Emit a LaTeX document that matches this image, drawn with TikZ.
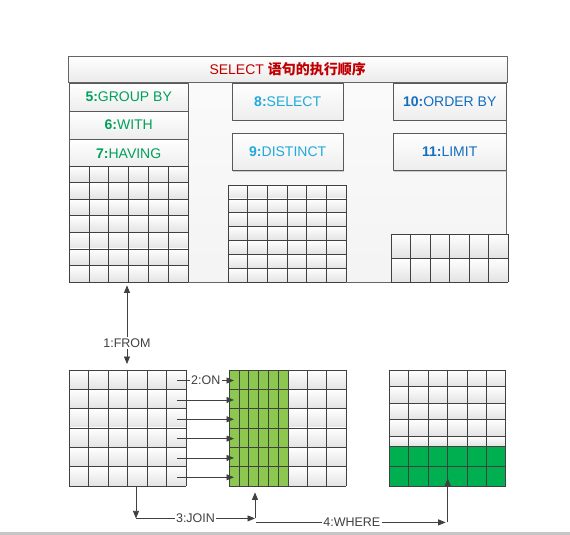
\documentclass[tikz,border=0pt]{standalone}
\usepackage{fontspec}
\setmainfont{Liberation Sans}
\newfontfamily\cjk{Noto Sans CJK SC}
\usetikzlibrary{positioning,calc,shadows,arrows.meta}
\definecolor{titlered}{RGB}{192,0,0}
\definecolor{grpgreen}{RGB}{0,160,90}
\definecolor{selblue}{RGB}{30,170,220}
\definecolor{ordblue}{RGB}{20,110,190}
\definecolor{joingreen}{RGB}{140,200,80}
\definecolor{wheregreen}{RGB}{0,176,80}
\definecolor{linegray}{RGB}{64,64,64}
% #1 fill style, #2 x0, #3 y0, #4 cols, #5 col width, #6 rows, #7 row height
\newcommand{\sqlgrid}[7]{%
  \foreach \r in {1,...,#6}
    \path[#1] (#2,{#3+(\r-1)*#7}) rectangle ({#2+#4*#5},{#3+\r*#7});
  \foreach \c in {0,...,#4}
    \draw[cellline] ({#2+\c*#5},#3) -- ({#2+\c*#5},{#3+#6*#7});
  \foreach \r in {0,...,#6}
    \draw[cellline] (#2,{#3+\r*#7}) -- ({#2+#4*#5},{#3+\r*#7});
}
\begin{document}
\begin{tikzpicture}[x=1pt, y=-1pt, font=\fontsize{14}{16}\selectfont, line join=round, >={Triangle[length=7.5pt,width=6pt]},
	opbox/.style={draw=black!65, top color=white, bottom color=gray!14, inner sep=0pt, minimum width=111pt, minimum height=37pt,
		drop shadow={shadow xshift=1.2pt, shadow yshift=-1.2pt, opacity=0.35}},
	stackbox/.style={draw=black!65, top color=white, bottom color=gray!14, inner sep=0pt, minimum width=119pt, minimum height=27.7pt},
	cellline/.style={draw=black!75, line width=0.6pt},
	plaincell/.style={top color=white, bottom color=gray!22},
	conn/.style={draw=linegray, line width=0.8pt},
	steplabel/.style={font=\fontsize{12.5}{14}\selectfont, text=linegray, fill=white, inner sep=1.5pt}]
	\useasboundingbox (0,0) rectangle (570,535);
	\node[draw=black!60, top color=gray!3, bottom color=gray!9, inner sep=0pt, minimum width=437pt, minimum height=225pt, anchor=north west] (panel) at (69,57) {};
	\node[draw=black!60, top color=white, bottom color=gray!16, inner sep=0pt, minimum width=439pt, minimum height=26pt, anchor=north west] (title) at (68,56)
		{\textcolor{titlered}{SELECT {\cjk\bfseries 语句的执行顺序}}};
	\node[stackbox, anchor=north west, text=grpgreen] (group) at (69,83) {\textbf{5:}GROUP BY};
	\node[stackbox, below=0pt of group, text=grpgreen] (with) {\textbf{6:}WITH};
	\node[stackbox, below=0pt of with, text=grpgreen] (having) {\textbf{7:}HAVING};
	\node[opbox, anchor=north west, text=selblue] (select) at (232,83) {\textbf{8:}SELECT};
	\node[opbox, below=13pt of select, text=selblue] (distinct) {\textbf{9:}DISTINCT};
	\node[opbox, anchor=north west, minimum width=113pt, text=ordblue] (orderby) at (393,83) {\textbf{10:}ORDER BY};
	\node[opbox, below=13pt of orderby, minimum width=113pt, text=ordblue] (limit) {\textbf{11:}LIMIT};
	\sqlgrid{plaincell}{69}{166}{6}{19.83}{7}{16.57}
	\sqlgrid{plaincell}{228}{185}{6}{19.67}{7}{13.86}
	\sqlgrid{plaincell}{391}{234}{6}{19.5}{2}{24}
	\sqlgrid{plaincell}{69}{370}{6}{19.5}{6}{19.33}
	\sqlgrid{fill=joingreen}{229}{370}{6}{9.83}{6}{19.33}
	\sqlgrid{plaincell}{288}{370}{3}{19.33}{6}{19.33}
	\sqlgrid{plaincell}{389}{370}{6}{19.45}{4}{16.5}
	\sqlgrid{plaincell}{389}{436}{6}{19.45}{1}{10}
	\sqlgrid{fill=wheregreen}{389}{446}{6}{19.45}{2}{20}
	\node[inner sep=0pt, minimum width=117pt, minimum height=116pt, anchor=north west] (tblA) at (69,370) {};
	\node[inner sep=0pt, minimum width=117pt, minimum height=116pt, anchor=north west] (tblB) at (229,370) {};
	\node[inner sep=0pt, minimum width=117pt, minimum height=116pt, anchor=north west] (tblC) at (389,370) {};
	\node[steplabel] (lblfrom) at (127,343) {1:FROM};
	\draw[conn,->,shorten >=3pt] (lblfrom.north) -- (lblfrom.north |- panel.south);
	\draw[conn,->,shorten >=6pt] (lblfrom.south) -- (lblfrom.south |- tblA.north);
	\draw[conn,->] ($(tblA.north east)+(-9,10.5)$) -- ($(tblB.north west)+(5,10.5)$) node[steplabel, midway] {2:ON};
	\foreach \k in {2,...,6}
		\draw[conn,->] ($(tblA.north east)+(-9,{(\k-0.45)*19.33})$) -- ($(tblB.north west)+(5,{(\k-0.45)*19.33})$);
	\coordinate (joincorner) at ($(tblA.south west)+(67,32)$);
	\coordinate (joinend) at ($(tblB.south west)+(26,32)$);
	\draw[conn,->] (tblA.south -| joincorner) -- (joincorner);
	\draw[conn,->] (joincorner) -- (joinend) node[steplabel, midway] {3:JOIN};
	\draw[conn,->,shorten >=6pt] (joinend) -- (joinend |- tblB.south);
	\coordinate (wherestart) at ($(joinend)+(1,4)$);
	\coordinate (whereend) at (tblC.south |- wherestart);
	\draw[conn,->,shorten >=2pt] (wherestart) -- (whereend) node[steplabel, midway] {4:WHERE};
	\draw[conn,->] (whereend) -- ([yshift=8pt]tblC.south);
	\fill[gray!45] (0,531.5) rectangle (570,535);
\end{tikzpicture}
\end{document}
